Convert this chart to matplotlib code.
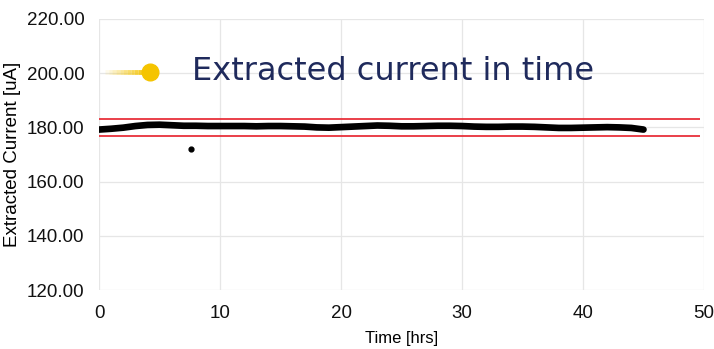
import matplotlib.pyplot as plt

# extracted current log, one reading per hour
time_hrs = list(range(0, 46))
current_ua = [179.2, 179.5, 179.9, 180.5, 180.9, 181.0, 180.8, 180.6, 180.6, 180.5,
              180.5, 180.5, 180.5, 180.4, 180.5, 180.5, 180.4, 180.3, 180.0, 179.9,
              180.1, 180.3, 180.5, 180.7, 180.6, 180.4, 180.4, 180.5, 180.6, 180.6,
              180.5, 180.3, 180.2, 180.2, 180.3, 180.3, 180.2, 180.0, 179.8, 179.8,
              179.9, 180.0, 180.1, 180.0, 179.8, 179.2]

# single low reading
spike_t = [7.6]
spike_i = [172.2]

# tolerance band
limits = [183.0, 177.0]

yticks = [120, 140, 160, 180, 200, 220]
xticks = [0, 10, 20, 30, 40, 50]

fig = plt.figure(figsize=(7.14, 3.49), dpi=100)
ax = fig.add_axes([0.1387, 0.169, 0.8473, 0.7766])

ax.hlines(limits, 0, 49.7, colors='#e8303a', linewidth=1.3, zorder=2)
ax.plot(time_hrs, current_ua, color='black', linewidth=4.8,
        solid_capstyle='round', solid_joinstyle='round', zorder=3)
ax.scatter(spike_t, spike_i, s=12, color='black', zorder=3)

ax.set_xlim(0, 50)
ax.set_ylim(120, 220)
ax.set_xticks(xticks)
ax.set_yticks(yticks)
ax.set_yticklabels(['%.2f' % v for v in yticks])
ax.grid(True, color='#e6e6e6', linewidth=0.9)
ax.set_axisbelow(True)
for s in ax.spines.values():
    s.set_visible(False)
ax.tick_params(length=0, labelsize=13.5, colors='#111111', pad=10.5)
for lab in ax.get_xticklabels() + ax.get_yticklabels():
    lab.set_fontfamily('Liberation Sans')

ax.set_xlabel('Time [hrs]', fontsize=12, family='Liberation Sans', labelpad=7)
ax.set_ylabel('Extracted Current [uA]', fontsize=13.5, family='Liberation Sans', labelpad=4)

# title badge: fading gold stroke with a dot
n = 12
for k in range(n):
    x0 = 105 + k * 44 / n
    x1 = 105 + (k + 1) * 44 / n
    fig.add_artist(plt.Line2D([x0 / 714, x1 / 714], [1 - 72 / 349] * 2,
                              color='#f5c400', alpha=(k + 1) / n, linewidth=3.5,
                              solid_capstyle='butt'))
fig.add_artist(plt.Line2D([150 / 714], [1 - 72 / 349], marker='o', markersize=12,
                          color='#f5c400', linestyle='none'))
fig.text(192 / 714, 1 - 72 / 349, 'Extracted current in time', fontsize=23,
         color='#1f2a5c', va='center', ha='left', family='DejaVu Sans')

fig.savefig('out.png', dpi=100)
